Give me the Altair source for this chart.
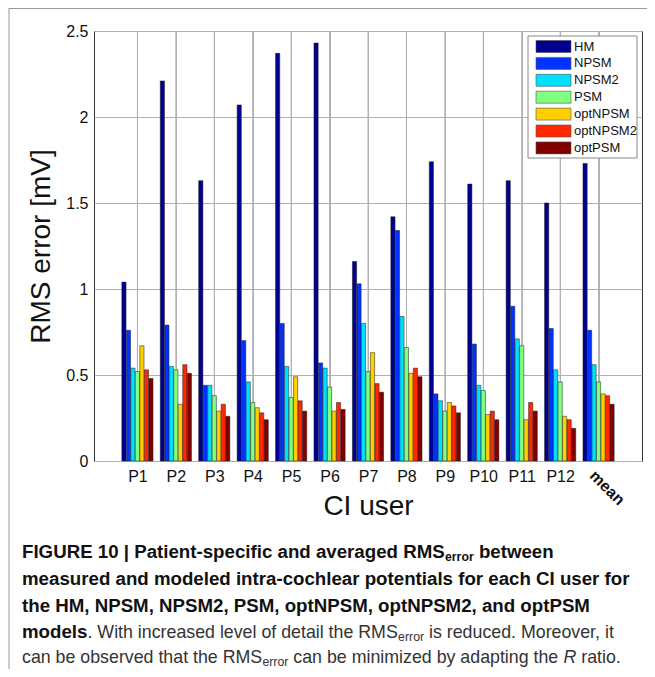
import altair as alt
import pandas as pd

# ---------------- data ----------------
users = ["P1", "P2", "P3", "P4", "P5", "P6", "P7", "P8", "P9", "P10", "P11", "P12", "mean"]
series = ["HM", "NPSM", "NPSM2", "PSM", "optNPSM", "optNPSM2", "optPSM"]

hm = [1.04, 2.21, 1.63, 2.07, 2.37, 2.43, 1.16, 1.42, 1.74, 1.61, 1.63, 1.50, 1.73]
npsm = [0.76, 0.79, 0.44, 0.70, 0.80, 0.57, 1.03, 1.34, 0.39, 0.68, 0.90, 0.77, 0.76]
npsm2 = [0.54, 0.55, 0.44, 0.46, 0.55, 0.54, 0.80, 0.84, 0.35, 0.44, 0.71, 0.53, 0.56]
psm = [0.52, 0.53, 0.38, 0.34, 0.37, 0.43, 0.52, 0.66, 0.29, 0.41, 0.67, 0.46, 0.46]
optnpsm = [0.67, 0.33, 0.29, 0.31, 0.49, 0.29, 0.63, 0.51, 0.34, 0.27, 0.24, 0.26, 0.39]
optnpsm2 = [0.53, 0.56, 0.33, 0.28, 0.35, 0.34, 0.45, 0.54, 0.32, 0.29, 0.34, 0.24, 0.38]
optpsm = [0.48, 0.51, 0.26, 0.24, 0.29, 0.30, 0.40, 0.49, 0.28, 0.24, 0.29, 0.19, 0.33]

values = [hm, npsm, npsm2, psm, optnpsm, optnpsm2, optpsm]
colors = ["#000090", "#0033FF", "#00DFFF", "#80FF80", "#FFCF00", "#FF2800", "#800000"]

y_ticks = [0, 0.5, 1, 1.5, 2, 2.5]

# ---------------- layout constants ----------------
W, H = 548, 430
SLOT = 0.117          # bar slot inside a group (x units)
FONT = "Liberation Sans"
GRID = "#b0b0b0"

rows = []
for j, (name, vals) in enumerate(zip(series, values)):
    for i, (u, v) in enumerate(zip(users, vals)):
        rows.append({"user": u, "series": name, "value": v,
                     "xpos": (i + 1) + (j - 3) * SLOT})
df = pd.DataFrame(rows)

color_scale = alt.Scale(domain=series, range=colors)
x_scale = alt.Scale(domain=[0, 14], nice=False, zero=False)
y_scale = alt.Scale(domain=[0, 2.5], nice=False)

x_axis = alt.Axis(values=list(range(1, 14)),
                  labelExpr="datum.value == 13 ? '' : 'P' + datum.value",
                  title="CI user", grid=True, gridColor=GRID, gridWidth=1,
                  ticks=False, domain=False,
                  labelFontSize=16, labelPadding=7, labelColor="#111",
                  titleFontSize=28, titleFontWeight="normal", titlePadding=8,
                  titleColor="#111", labelFlush=False)

# vertical grid lines at each group centre
grid_df = pd.DataFrame({"user": users, "gpos": list(range(1, len(users) + 1)),
                        "top": [2.5] * len(users), "bottom": [0.0] * len(users)})
vgrid = alt.Chart(grid_df).mark_rule(color=GRID, strokeWidth=1, opacity=1).encode(
    x=alt.X("gpos:Q", scale=x_scale, axis=x_axis),
    y=alt.Y("bottom:Q", scale=y_scale),
    y2="top:Q")

bars = alt.Chart(df).mark_bar(size=4.2, stroke="#1a1a1a", strokeWidth=0.5).encode(
    x=alt.X("xpos:Q", scale=x_scale, axis=x_axis),
    y=alt.Y("value:Q", scale=y_scale,
            axis=alt.Axis(values=y_ticks, format="~g", title="RMS error [mV]",
                          grid=True, ticks=False, domain=False,
                          labelFontSize=16, labelPadding=6, labelColor="#111",
                          titleFontSize=28, titleFontWeight="normal", titlePadding=10,
                          titleColor="#111", gridColor=GRID)),
    color=alt.Color("series:N", scale=color_scale, legend=None),
)

mean_df = pd.DataFrame({"label": [users[-1]], "xpos": [len(users)]})
mean_text = alt.Chart(mean_df).mark_text(
    angle=45, align="center", baseline="middle", dx=25, dy=13,
    fontSize=16, fontWeight="bold", color="#111").encode(
    x=alt.X("xpos:Q", scale=x_scale, axis=x_axis),
    y=alt.value(H),
    text="label:N",
)

# ---------------- legend (drawn) ----------------
leg_rows = []
for j, name in enumerate(series):
    yc = 15.5 + 16.9 * j
    leg_rows.append({"series": name, "y1": yc - 6, "y2": yc + 6, "yc": yc,
                     "x1": 442, "x2": 477, "xt": 480})
leg = pd.DataFrame(leg_rows)

leg_box = alt.Chart(pd.DataFrame({"a": [0]})).mark_rect(
    fill="white", stroke="#888", strokeWidth=1).encode(
    x=alt.value(434), x2=alt.value(543), y=alt.value(5), y2=alt.value(127))

leg_sw = alt.Chart(leg).mark_rect(stroke="#555", strokeWidth=0.6).encode(
    x=alt.X("x1:Q", scale=None, axis=None), x2="x2:Q",
    y=alt.Y("y1:Q", scale=None, axis=None), y2="y2:Q",
    color=alt.Color("series:N", scale=color_scale, legend=None))

leg_tx = alt.Chart(leg).mark_text(align="left", baseline="middle", fontSize=13,
                                  color="#111").encode(
    x=alt.X("xt:Q", scale=None, axis=None),
    y=alt.Y("yc:Q", scale=None, axis=None),
    text="series:N")

# ---------------- frame lines ----------------
frame_left = alt.Chart(pd.DataFrame({"a": [0]})).mark_rule(color="#999", strokeWidth=1).encode(
    x=alt.value(-85), y=alt.value(-23), y2=alt.value(640))
frame_top = alt.Chart(pd.DataFrame({"a": [0]})).mark_rule(color="#999", strokeWidth=1).encode(
    x=alt.value(-85), x2=alt.value(560), y=alt.value(-22.5))

# ---------------- caption ----------------
REG = {' ': 278, ',': 278, '-': 333, '.': 278, '|': 260,
       '0': 556, '1': 556, '2': 556,
       'A': 667, 'B': 667, 'C': 722, 'D': 722, 'E': 667, 'F': 611, 'G': 778, 'H': 722,
       'I': 278, 'J': 500, 'K': 667, 'L': 556, 'M': 833, 'N': 722, 'O': 778, 'P': 667,
       'Q': 778, 'R': 722, 'S': 667, 'T': 611, 'U': 722, 'V': 667, 'W': 944, 'X': 667,
       'Y': 667, 'Z': 611,
       'a': 556, 'b': 556, 'c': 500, 'd': 556, 'e': 556, 'f': 278, 'g': 556, 'h': 556,
       'i': 222, 'j': 222, 'k': 500, 'l': 222, 'm': 833, 'n': 556, 'o': 556, 'p': 556,
       'q': 556, 'r': 333, 's': 500, 't': 278, 'u': 556, 'v': 500, 'w': 722, 'x': 500,
       'y': 500, 'z': 500}
BOLD = {' ': 278, ',': 278, '-': 333, '.': 278, '|': 280,
        '0': 556, '1': 556, '2': 556,
        'A': 722, 'B': 722, 'C': 722, 'D': 722, 'E': 667, 'F': 611, 'G': 778, 'H': 722,
        'I': 278, 'J': 556, 'K': 722, 'L': 611, 'M': 833, 'N': 722, 'O': 778, 'P': 667,
        'Q': 778, 'R': 722, 'S': 667, 'T': 611, 'U': 722, 'V': 667, 'W': 944, 'X': 667,
        'Y': 667, 'Z': 611,
        'a': 556, 'b': 611, 'c': 556, 'd': 611, 'e': 556, 'f': 333, 'g': 611, 'h': 611,
        'i': 278, 'j': 278, 'k': 556, 'l': 278, 'm': 889, 'n': 611, 'o': 611, 'p': 611,
        'q': 611, 'r': 389, 's': 556, 't': 333, 'u': 611, 'v': 556, 'w': 778, 'x': 556,
        'y': 556, 'z': 500}

CAP_B = 18.7   # bold caption size
CAP_R = 17.8   # regular caption size
SUB = 12.3
caption_lines = [
    [("FIGURE 10 | Patient-specific and averaged RMS", "b"), ("error", "bs"), (" between", "b")],
    [("measured and modeled intra-cochlear potentials for each CI user for", "b")],
    [("the HM, NPSM, NPSM2, PSM, optNPSM, optNPSM2, and optPSM", "b")],
    [("models", "b"), (". With increased level of detail the RMS", "r"), ("error", "rs"),
     (" is reduced. Moreover, it", "r")],
    [("can be observed that the RMS", "r"), ("error", "rs"),
     (" can be minimized by adapting the ", "r"), ("R", "i"), (" ratio.", "r")],
]
baselines = [527, 554, 581, 607, 632]

seg_rows = []
for line, yb in zip(caption_lines, baselines):
    x = -72.0
    for text, st in line:
        table = BOLD if st.startswith("b") else REG
        if st.endswith("s"):
            size = SUB
        elif st == "b":
            size = CAP_B
        else:
            size = CAP_R
        lead = text[:len(text) - len(text.lstrip(" "))]
        x_draw = x + sum(table[c] for c in lead) / 1000 * size
        seg_rows.append({"text": text.strip(" "), "x": x_draw,
                         "y": yb + (3.0 if st.endswith("s") else 0), "style": st})
        x += sum(table.get(c, 556) for c in text) / 1000 * size
seg = pd.DataFrame(seg_rows)


def cap_layer(style, size, weight, fstyle, color):
    return alt.Chart(seg[seg["style"] == style]).mark_text(
        align="left", baseline="alphabetic", fontSize=size, fontWeight=weight,
        fontStyle=fstyle, color=color).encode(
        x=alt.X("x:Q", scale=None, axis=None),
        y=alt.Y("y:Q", scale=None, axis=None),
        text="text:N")


caption = [
    cap_layer("b", CAP_B, "bold", "normal", "#111"),
    cap_layer("bs", SUB, "bold", "normal", "#111"),
    cap_layer("r", CAP_R, "normal", "normal", "#333"),
    cap_layer("rs", SUB, "normal", "normal", "#333"),
    cap_layer("i", CAP_R, "normal", "italic", "#333"),
]

chart = alt.layer(
    vgrid, bars, mean_text, leg_box, leg_sw, leg_tx, frame_left, frame_top, *caption
).properties(
    width=W, height=H,
    autosize=alt.AutoSizeParams(type="none"),
    padding={"left": 86, "top": 23, "right": 5, "bottom": 208},
).configure(font=FONT).configure_view(stroke="#333", strokeWidth=1)

chart.save("out.html", embed_options={"renderer": "svg", "actions": False})
